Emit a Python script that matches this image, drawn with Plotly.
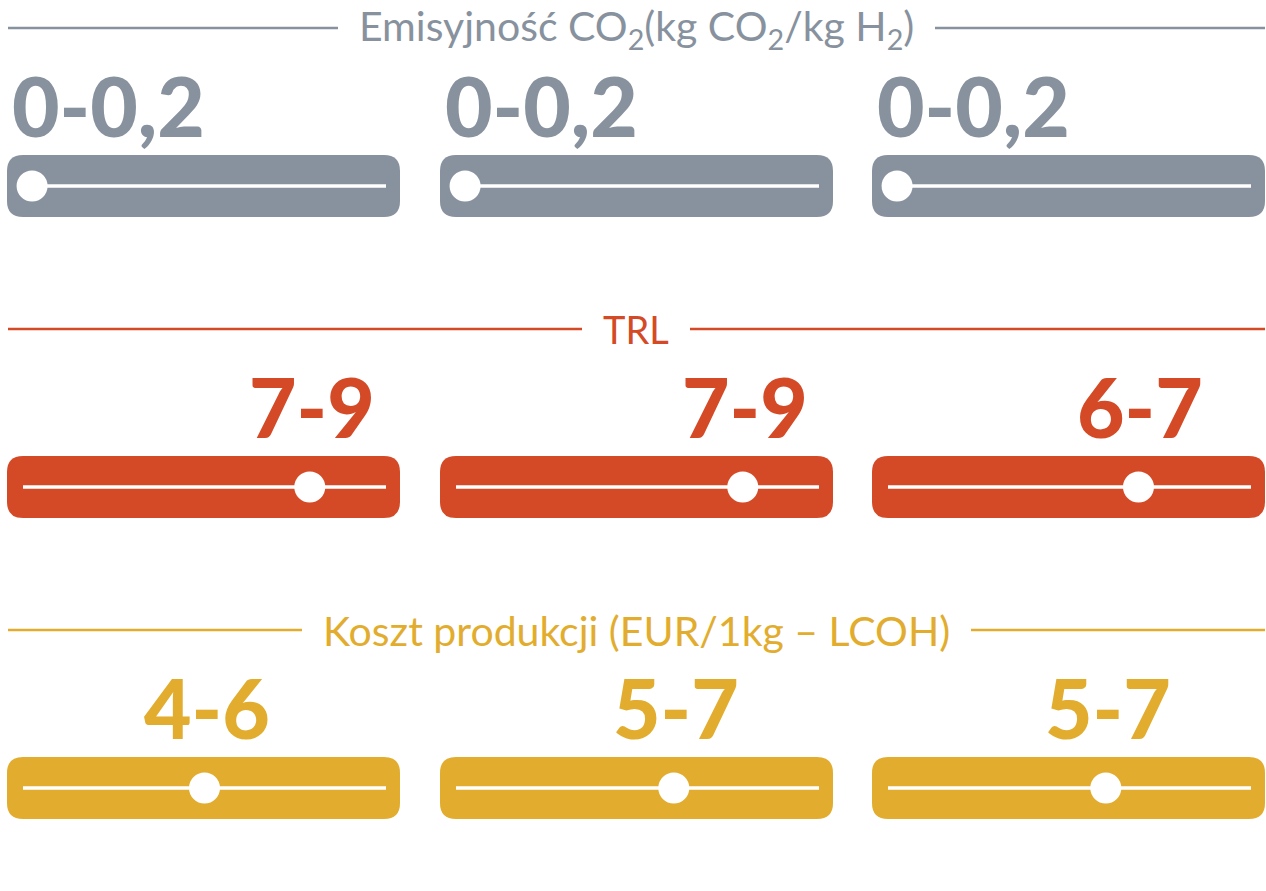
import plotly.graph_objects as go

# ---------------- data ----------------
row_titles = [
    "Emisyjność CO<sub>2</sub>(kg CO<sub>2</sub>/kg H<sub>2</sub>)",
    "TRL",
    "Koszt produkcji (EUR/1kg – LCOH)",
]
emission_labels = ["0-0,2", "0-0,2", "0-0,2"]
emission_pos = [0.25, 0.25, 0.25]          # slider position, 0–10 scale
trl_labels = ["7-9", "7-9", "6-7"]
trl_pos = [7.9, 7.9, 6.9]
cost_labels = ["4-6", "5-7", "5-7"]
cost_pos = [5.0, 6.0, 6.0]

labels = [emission_labels, trl_labels, cost_labels]
positions = [emission_pos, trl_pos, cost_pos]

# ---------------- style / layout ----------------
W, H = 1266, 891
colors = ["#87929E", "#D44A27", "#E2AD2E"]
row_y = [186, 487, 788]            # row centre (px from top)
title_sizes = [41, 38, 41]
label_align = ["left", "center", "center"]
col_px = [(7, 400), (440, 833), (872, 1265)]
line_inset_l, line_inset_r = 16, 14
px_per_unit = 36.3
bar_half_h = 31
corner = 16
title_font = "Lato"
num_font = "Lato"

fig = go.Figure()
layout = dict(
    width=W, height=H, margin=dict(l=0, r=0, t=0, b=0),
    paper_bgcolor="white", plot_bgcolor="white", showlegend=False,
    yaxis=dict(range=[H, 0], domain=[0, 1], visible=False, fixedrange=True),
)
ranges = []
for c, (a, b) in enumerate(col_px):
    lo = -line_inset_l / px_per_unit
    hi = 10 + line_inset_r / px_per_unit
    ranges.append((lo, hi))
    key = "xaxis" if c == 0 else f"xaxis{c+1}"
    layout[key] = dict(domain=[a / W, b / W], range=[lo, hi], visible=False,
                       fixedrange=True, anchor="y")
fig.update_layout(**layout)

shapes, annots = [], []


def rounded(x0, x1, y0, y1, rx, ry):
    return (f"M {x0+rx},{y0} L {x1-rx},{y0} Q {x1},{y0} {x1},{y0+ry} "
            f"L {x1},{y1-ry} Q {x1},{y1} {x1-rx},{y1} L {x0+rx},{y1} "
            f"Q {x0},{y1} {x0},{y1-ry} L {x0},{y0+ry} Q {x0},{y0} {x0+rx},{y0} Z")


for r in range(3):
    yc = row_y[r]
    col = colors[r]
    # header line + title
    hy = yc - 158
    shapes.append(dict(type="line", xref="paper", yref="y", x0=8 / W, x1=1265 / W,
                       y0=hy, y1=hy, line=dict(color=col, width=2.5), layer="below"))
    annots.append(dict(xref="paper", yref="y", x=636 / W, y=hy, text=row_titles[r],
                       showarrow=False, xanchor="center", yanchor="middle",
                       font=dict(family=title_font, size=title_sizes[r], color=col),
                       bgcolor="white", borderpad=21, borderwidth=0))
    for c in range(3):
        xr = "x" if c == 0 else f"x{c+1}"
        lo, hi = ranges[c]
        rx = corner / px_per_unit
        shapes.append(dict(type="path", xref=xr, yref="y",
                           path=rounded(lo, hi, yc - bar_half_h, yc + bar_half_h, rx, corner),
                           fillcolor=col, line=dict(width=0), layer="below"))
        shapes.append(dict(type="line", xref=xr, yref="y", x0=0, x1=10, y0=yc, y1=yc,
                           line=dict(color="white", width=3.5), layer="below"))
        fig.add_trace(go.Scatter(x=[positions[r][c]], y=[yc], xaxis=xr, yaxis="y",
                                 mode="markers", hoverinfo="skip",
                                 marker=dict(size=31, color="white", line=dict(width=0))))
        if label_align[r] == "left":
            ax, anc, xs = lo, "left", 3
        else:
            ax, anc, xs = positions[r][c], "center", 2
        annots.append(dict(xref=xr, yref="y", x=ax, y=yc - 81, text=labels[r][c],
                           showarrow=False, xanchor=anc, yanchor="middle", xshift=xs,
                           font=dict(family=num_font, size=82, color=col, weight=900)))

fig.update_layout(shapes=shapes, annotations=annots)
fig.write_html("out.html", config={"displayModeBar": False},
               post_script="document.body.style.margin='0';document.body.style.padding='0';")
